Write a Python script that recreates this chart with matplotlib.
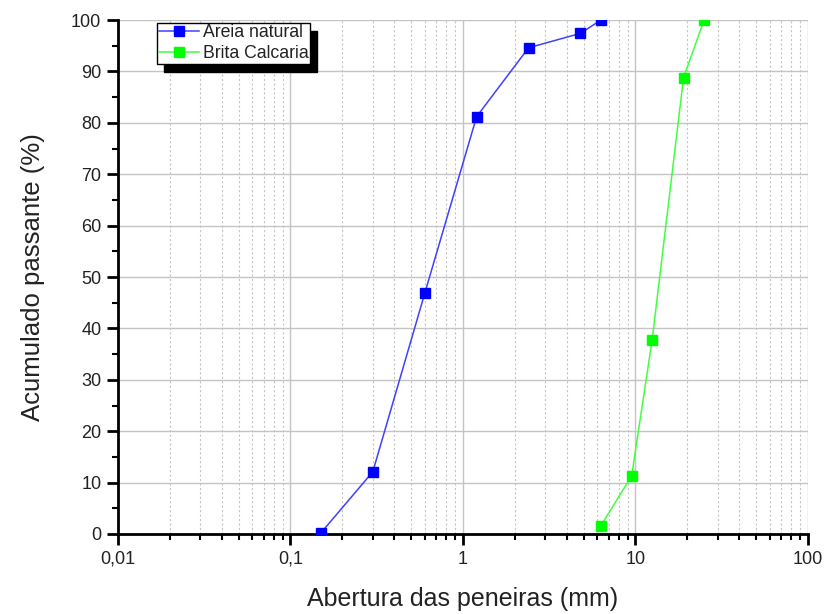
import matplotlib
matplotlib.use("Agg")
import matplotlib.pyplot as plt
from matplotlib.ticker import FixedLocator, LogLocator, NullFormatter, MultipleLocator

plt.rcParams['font.family'] = ['Liberation Sans', 'DejaVu Sans']

areia_x = [0.15, 0.3, 0.6, 1.2, 2.4, 4.8, 6.3]
areia_y = [0.2, 12.1, 46.8, 81.2, 94.6, 97.4, 100.0]
brita_x = [6.3, 9.5, 12.5, 19.0, 25.0]
brita_y = [1.6, 11.3, 37.8, 88.8, 100.0]

xticks = [0.01, 0.1, 1, 10, 100]
xticklabels = ["0,01", "0,1", "1", "10", "100"]
yticks = list(range(0, 101, 10))

fig = plt.figure(figsize=(8.28, 6.14), dpi=100)
ax = fig.add_axes([0.1425, 0.1303, 0.8333, 0.8371])

ax.plot(areia_x, areia_y, color='#4040ff', lw=1.1, marker='s', ms=7.5,
        mfc='#0000ff', mec='#0000ff', label='Areia natural', zorder=3)
ax.plot(brita_x, brita_y, color='#40ff40', lw=1.1, marker='s', ms=7.5,
        mfc='#00ff00', mec='#00ff00', label='Brita Calcaria', zorder=3)

ax.set_xscale('log')
ax.set_xlim(0.01, 100)
ax.set_ylim(0, 100)
ax.xaxis.set_major_locator(FixedLocator(xticks))
ax.set_xticks(xticks)
ax.set_xticklabels(xticklabels)
ax.xaxis.set_minor_locator(LogLocator(base=10, subs=[2, 3, 4, 5, 6, 7, 8, 9]))
ax.xaxis.set_minor_formatter(NullFormatter())
ax.set_yticks(yticks)
ax.yaxis.set_minor_locator(MultipleLocator(5))

for s in ['top', 'right']:
    ax.spines[s].set_visible(False)
for s in ['left', 'bottom']:
    ax.spines[s].set_linewidth(2)
    ax.spines[s].set_color('black')

ax.tick_params(which='major', direction='out', length=8, width=2,
               labelsize=13, labelcolor='#222222', pad=4)
ax.tick_params(which='minor', direction='out', length=4, width=1.5)

ax.grid(which='major', axis='both', color='#c4c4c4', lw=1, ls='-', zorder=0)
ax.grid(which='minor', axis='x', color='#c4c4c4', lw=0.8, ls=(0, (2, 2)), zorder=0)
ax.set_axisbelow(True)

ax.set_xlabel('Abertura das peneiras (mm)', fontsize=18, color='#222222', labelpad=14)
ax.set_ylabel('Acumulado passante (%)', fontsize=18.5, color='#222222', labelpad=19)

leg = ax.legend(loc='upper left', bbox_to_anchor=(0.0565, 0.995), borderaxespad=0,
                fontsize=12.7, frameon=True, fancybox=False, edgecolor='black',
                framealpha=1, handlelength=2.3, handletextpad=0.2, borderpad=0.1,
                labelspacing=0.2,
                shadow={'color': 'black', 'alpha': 1, 'ox': 5.0, 'oy': -6})
leg.get_frame().set_linewidth(1)
for t in leg.get_texts():
    t.set_color('#222222')

fig.savefig('out.png', dpi=100)
